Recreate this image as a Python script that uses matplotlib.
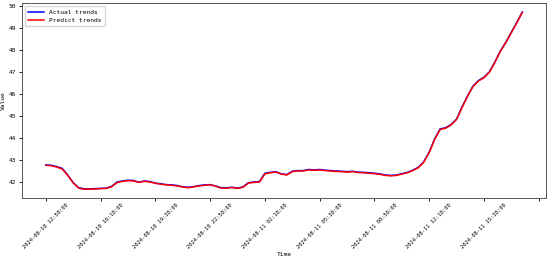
import matplotlib
matplotlib.use("Agg")
import matplotlib.pyplot as plt
import pandas as pd

# sampled every 20 minutes starting 2024-08-10 12:58
start_time = "2024-08-10 12:58:00"
step_minutes = 20

actual = [
    42.76, 42.74, 42.68, 42.60, 42.30, 41.95, 41.72, 41.67, 41.67, 41.68,
    41.69, 41.70, 41.78, 41.98, 42.03, 42.06, 42.05, 41.97, 42.03, 42.00,
    41.93, 41.90, 41.86, 41.85, 41.82, 41.76, 41.74, 41.77, 41.82, 41.85,
    41.86, 41.80, 41.72, 41.72, 41.74, 41.70, 41.76, 41.95, 41.98, 42.00,
    42.38, 42.42, 42.45, 42.35, 42.32, 42.47, 42.50, 42.50, 42.55, 42.53,
    42.55, 42.52, 42.50, 42.48, 42.47, 42.45, 42.47, 42.43, 42.42, 42.40,
    42.38, 42.35, 42.30, 42.28, 42.30, 42.36, 42.42, 42.52, 42.65, 42.90,
    43.35, 43.95, 44.40, 44.45, 44.60, 44.85, 45.40, 45.90, 46.35, 46.60,
    46.75, 47.00, 47.45, 47.95, 48.35, 48.80, 49.25, 49.72,
]

predict = [
    42.74, 42.72, 42.66, 42.57, 42.28, 41.94, 41.70, 41.65, 41.66, 41.66,
    41.68, 41.69, 41.76, 41.95, 42.01, 42.04, 42.03, 41.96, 42.01, 41.98,
    41.92, 41.88, 41.85, 41.83, 41.80, 41.75, 41.72, 41.76, 41.80, 41.83,
    41.85, 41.79, 41.70, 41.70, 41.73, 41.69, 41.74, 41.93, 41.96, 41.98,
    42.35, 42.40, 42.43, 42.34, 42.30, 42.45, 42.48, 42.48, 42.53, 42.51,
    42.53, 42.50, 42.48, 42.46, 42.45, 42.43, 42.45, 42.41, 42.40, 42.38,
    42.36, 42.33, 42.28, 42.26, 42.28, 42.34, 42.40, 42.50, 42.63, 42.88,
    43.32, 43.92, 44.37, 44.43, 44.58, 44.83, 45.37, 45.88, 46.33, 46.58,
    46.73, 46.98, 47.43, 47.93, 48.33, 48.78, 49.23, 49.70,
]

tick_times = [
    "2024-08-10 12:58:00", "2024-08-10 16:18:00", "2024-08-10 19:38:00",
    "2024-08-10 22:58:00", "2024-08-11 02:18:00", "2024-08-11 05:38:00",
    "2024-08-11 08:58:00", "2024-08-11 12:18:00", "2024-08-11 15:38:00",
    "2024-08-11 18:58:00",
]
tick_labels = [
    "2024-08-10 12:58:00", "2024-08-10 16:18:00", "2024-08-10 19:38:00",
    "2024-08-10 22:58:00", "2024-08-11 02:18:00", "2024-08-11 05:38:00",
    "2024-08-11 08:58:00", "2024-08-11 12:18:00", "2024-08-11 15:38:00",
    "",
]

times = pd.date_range(start_time, periods=len(actual), freq=f"{step_minutes}min")

plt.rcParams["font.family"] = ["DejaVu Sans Mono"]

fig = plt.figure(figsize=(5.5, 2.6), dpi=100)
ax = fig.add_axes([0.04, 0.238, 0.953, 0.75])

ax.plot(times, actual, color="blue", linewidth=1.1, label="Actual trends")
ax.plot(times, predict, color="red", linewidth=1.1, label="Predict trends")

ax.set_xticks(pd.to_datetime(tick_times))
ax.set_xticklabels(tick_labels, rotation=45, fontsize=3.9)
ax.tick_params(axis="y", labelsize=4.4, length=2.5, width=0.6, pad=1.5)
ax.tick_params(axis="x", length=2.5, width=0.6, pad=1.0)
for s in ax.spines.values():
    s.set_linewidth(0.7)
    s.set_color("#555555")

ax.set_xlabel("Time", fontsize=4.5, labelpad=1)
ax.set_ylabel("Value", fontsize=4.5, labelpad=2)
ax.legend(loc="upper left", fontsize=4.5, handlelength=2.5, borderpad=0.5,
          labelspacing=0.5, framealpha=0.8)

fig.savefig("out.png", dpi=100)
